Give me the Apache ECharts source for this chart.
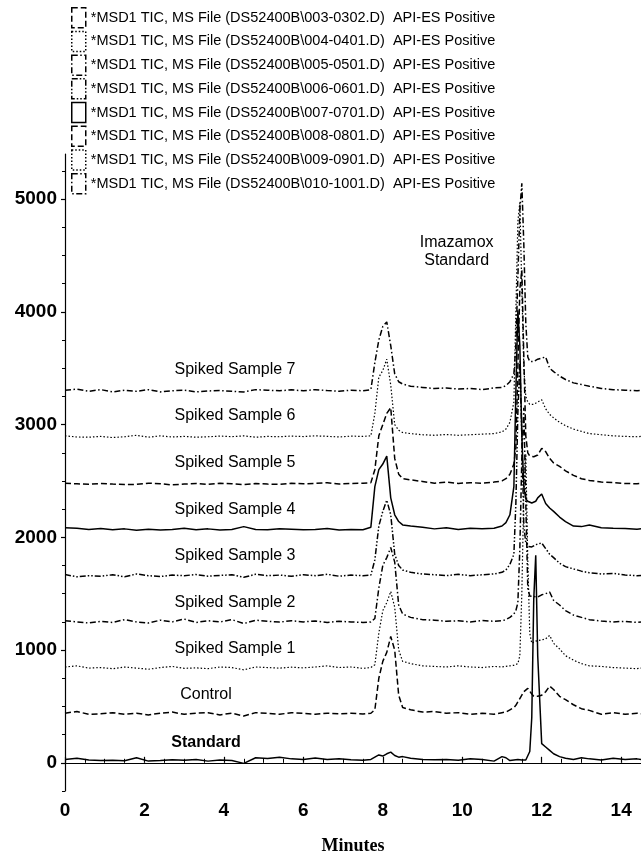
<!DOCTYPE html>
<html>
<head>
<meta charset="utf-8">
<script src="https://cdn.jsdelivr.net/npm/echarts@6/dist/echarts.min.js"></script>
<style>
  html, body { margin: 0; padding: 0; background: #fff; }
  #chart { width: 641px; height: 865px; }
</style>
</head>
<body>
<div id="chart"></div>
<script>
// retention time grid (minutes), denser around the two peak regions
const minutes = [
  0, 0.3, 0.6, 0.9, 1.2, 1.5, 1.8, 2.1, 2.4, 2.7, 3.0, 3.3, 3.6, 3.9, 4.2, 4.5, 4.8, 5.1, 5.4, 5.7, 6.0, 6.3, 6.6, 6.9, 7.2, 7.5,
  7.7, 7.8, 7.9, 8.0, 8.1, 8.2, 8.3, 8.4, 8.5,
  8.7, 9.0, 9.3, 9.6, 9.9, 10.2, 10.5, 10.8,
  11.0, 11.1, 11.2, 11.3,
  11.35, 11.4, 11.45, 11.5, 11.55, 11.6, 11.65, 11.7, 11.75, 11.8, 11.85, 11.9,
  12.0, 12.1, 12.2, 12.3, 12.45, 12.6, 12.8, 13.0, 13.2, 13.5, 13.8, 14.1, 14.4, 14.5
];

const standard = [
  30, 40, 25, 20, 22, 18, 45, 15, 20, 28, 22, 30, 15, 25, 20, -5, 45, 38, 50, 35, 30, 42, 30, 35, 28, 22,
  30, 50, 70, 60, 80, 95, 65, 50, 55,
  40, 30, 28, 30, 22, 35, 30, 15,
  55, 45, 20, 25,
  15, 30, 20, 25, 20, 25, 40, 100, 400, 1450, 1840, 950,
  170, 140, 110, 80, 55, 40, 30, 45, 35, 25, 40, 30, 35, 30
];
const control = [
  440, 455, 430, 435, 445, 430, 440, 425, 440, 450, 430, 440, 445, 425, 440, 415, 445, 440, 430, 445, 438, 430, 440, 435, 440, 432,
  440, 470, 750, 900, 980, 1120, 1000, 600, 490,
  470, 450, 455, 440, 445, 430, 440, 430,
  445, 450, 470, 490,
  510, 540, 570, 600, 630, 645, 660, 665, 610, 590, 585, 590,
  600, 630, 680, 650, 590, 560, 515, 480, 465, 430, 445, 430, 440, 435
];
const spiked1 = [
  850, 860, 840, 845, 835, 850, 840, 830, 845, 855, 838, 842, 835, 850, 845, 825, 850, 845, 840, 848, 842, 850, 860, 845, 850, 838,
  845, 870, 1150, 1350, 1420, 1520, 1380, 1000, 900,
  880, 860, 855, 850, 860, 850, 845, 855,
  850, 855, 860, 865,
  870, 880, 950, 1500, 2400, 2740, 1800, 1150, 1060, 1070, 1080, 1090,
  1090, 1100, 1130, 1060, 1010, 950, 910, 880, 860, 855, 845, 840, 835, 840
];
const spiked2 = [
  1260, 1250, 1240, 1255, 1245, 1270, 1250, 1240, 1265, 1250, 1275, 1245, 1260, 1250, 1270, 1235, 1265, 1255, 1248, 1260, 1250, 1258, 1245, 1255, 1250, 1245,
  1250, 1280, 1550, 1750, 1820, 1910, 1780, 1400, 1320,
  1290, 1270, 1265, 1255, 1260, 1250, 1262, 1255,
  1260, 1270, 1290, 1320,
  1350, 1420, 1900, 2700, 3150, 2300, 1550, 1480, 1470, 1475, 1480, 1470,
  1490, 1500, 1515, 1440, 1400, 1350, 1310, 1290, 1270, 1258, 1250, 1255, 1245, 1250
];
const spiked3 = [
  1670, 1650, 1660, 1655, 1668, 1650, 1675, 1660, 1652, 1665, 1660, 1670, 1655, 1662, 1668, 1645, 1672, 1660, 1665, 1655, 1668, 1660, 1672, 1655, 1665, 1660,
  1665, 1800, 2100, 2230, 2330, 2200, 1850, 1750, 1710,
  1690, 1675, 1668, 1660, 1672, 1660, 1668, 1675,
  1690, 1710, 1760, 1850,
  2300, 3100, 3560, 2900, 2100, 1950, 1920, 1910, 1915, 1925, 1935, 1930,
  1950, 1900, 1850, 1820, 1770, 1740, 1720, 1700, 1685, 1675, 1680, 1665, 1660, 1662
];
const spiked4 = [
  2085, 2080, 2070, 2078, 2068, 2075, 2062, 2072, 2065, 2070, 2080, 2068, 2075, 2065, 2070, 2095, 2070, 2068, 2075, 2072, 2068, 2070, 2078, 2065, 2070, 2068,
  2090, 2450, 2600, 2650, 2720, 2350, 2200, 2140, 2110,
  2100, 2090, 2075, 2085, 2070, 2080, 2075, 2080,
  2100, 2130, 2200, 2450,
  3300, 4014, 3700, 2900, 2450, 2340, 2320, 2310, 2305, 2300, 2320, 2350,
  2385, 2300, 2260, 2230, 2180, 2140, 2100, 2095, 2110, 2085, 2080, 2078, 2072, 2075
];
const spiked5 = [
  2480, 2475, 2470, 2478, 2472, 2468, 2470, 2480, 2476, 2465, 2472, 2478, 2470, 2480, 2475, 2468, 2478, 2472, 2470, 2480, 2475, 2478, 2485, 2472, 2478, 2480,
  2485, 2600, 2900, 3000, 3100, 3150, 2700, 2560, 2520,
  2510, 2495, 2480, 2490, 2478, 2485, 2480, 2490,
  2500, 2520, 2560, 2650,
  2800, 3500, 4200, 4370, 3600, 2900, 2750, 2720, 2710, 2715, 2720, 2730,
  2790, 2760, 2700, 2660, 2630, 2590, 2550, 2520, 2505, 2490, 2485, 2478, 2475, 2478
];
const spiked6 = [
  2900, 2890, 2888, 2895, 2885, 2892, 2905, 2888, 2900, 2890, 2895, 2888, 2892, 2898, 2893, 2900, 2888, 2895, 2892, 2898, 2894, 2900, 2896, 2890, 2898, 2895,
  2900, 3100, 3420, 3480, 3580, 3350, 3000, 2950, 2930,
  2920, 2910, 2905, 2912, 2905, 2910, 2915, 2920,
  2935, 2960, 3020, 3200,
  4000, 4800, 4970, 4200, 3500, 3250, 3200, 3180, 3170, 3180, 3190, 3200,
  3220, 3140, 3090, 3060, 3020, 2990, 2960, 2940, 2920, 2910, 2900, 2895, 2892, 2895
];
const spiked7 = [
  3305, 3315, 3295, 3310, 3290, 3305, 3295, 3310, 3290, 3300, 3305, 3290, 3298, 3302, 3295, 3290, 3310, 3305, 3300, 3308, 3300, 3310, 3302, 3295, 3305, 3300,
  3310, 3550, 3750, 3870, 3910, 3700, 3450, 3380, 3360,
  3340, 3330, 3320, 3325, 3315, 3320, 3310, 3325,
  3330, 3345, 3380, 3450,
  3700, 4300, 4900, 5140, 4600, 3900, 3600, 3560, 3550, 3560, 3575, 3580,
  3590, 3600, 3500, 3470, 3430, 3400, 3370, 3355, 3340, 3320, 3310, 3305, 3300, 3302
];

const traceNames = ["Standard", "Control", "Spiked Sample 1", "Spiked Sample 2", "Spiked Sample 3",
  "Spiked Sample 4", "Spiked Sample 5", "Spiked Sample 6", "Spiked Sample 7"];
const fileIds = ["003-0302", "004-0401", "005-0501", "006-0601", "007-0701", "008-0801", "009-0901", "010-1001"];
const xTickLabels = [0, 2, 4, 6, 8, 10, 12, 14];
const yTickLabels = [0, 1000, 2000, 3000, 4000, 5000];

const traces = [standard, control, spiked1, spiked2, spiked3, spiked4, spiked5, spiked6, spiked7];
const fileNames = fileIds.map(f => `*MSD1 TIC, MS File (DS52400B\\${f}.D)  API-ES Positive`);

// line patterns cycle like the original plot: solid, dash, dot, dash-dot, dash-dot-dot
const patterns = ["solid", [6, 3], [1.5, 2], [6, 2.5, 1.5, 2.5], [6, 2, 1.5, 2, 1.5, 2]];
const styleOf = i => patterns[i % 5];

// where each trace caption sits, in data coordinates
const captionAt = [[3.55, 177], [3.55, 603], [4.28, 1012], [4.28, 1420], [4.28, 1837],
  [4.28, 2245], [4.28, 2662], [4.28, 3079], [4.28, 3487]];

const font = "'Liberation Sans', Arial, sans-serif";

const lineSeries = traces.map((vals, i) => ({
  type: "line",
  name: i === 0 ? "Standard trace" : fileNames[i - 1],
  data: minutes.map((t, k) => [t, vals[k]]),
  showSymbol: false,
  symbol: "none",
  silent: true,
  lineStyle: { color: "#000", width: styleOf(i) === patterns[2] ? 1.2 : 1.5, type: styleOf(i) },
  z: 3
}));

const captions = {
  type: "scatter",
  name: "captions",
  symbolSize: 0,
  silent: true,
  z: 5,
  itemStyle: { opacity: 1 },
  label: {
    show: true, position: "inside", formatter: p => p.name,
    color: "#000", opacity: 1, fontSize: 16, fontFamily: font, lineHeight: 18
  },
  data: traceNames.map((n, i) => ({
    name: n, value: captionAt[i],
    label: i === 0 ? { fontWeight: "bold" } : {}
  })).concat([{ name: "Imazamox\nStandard", value: [9.86, 4534] }])
};

const axisText = { color: "#000", fontSize: 19, fontWeight: "bold", fontFamily: font, formatter: v => String(v) };
const minorX = [];
for (let v = 0.5; v <= 14.5; v += 1) minorX.push(v);
for (let v = 1; v <= 13; v += 2) minorX.push(v);
const minorY = [];
for (let v = -250; v <= 5250; v += 250) if (v % 1000 !== 0) minorY.push(v);

const option = {
  animation: false,
  backgroundColor: "#fff",
  grid: { left: 65, right: 0, top: 154, bottom: 74 },
  legend: {
    orient: "vertical",
    left: 66, top: 2, padding: 5,
    itemWidth: 14, itemHeight: 20, itemGap: 2.2,
    selectedMode: false,
    textStyle: { color: "#000", fontSize: 14.5, fontFamily: font },
    data: fileNames.map((n, i) => ({
      name: n,
      icon: "path://M0,0H14V20H0Z",
      itemStyle: {
        color: "transparent", borderColor: "#000", borderWidth: 1.5,
        borderType: styleOf(i + 1)
      }
    }))
  },
  xAxis: [{
    type: "value", min: 0, max: 14.5,
    name: "Minutes", nameLocation: "middle", nameGap: 46,
    nameTextStyle: { color: "#000", fontSize: 18, fontWeight: "bold", fontFamily: "'Liberation Serif', 'Times New Roman', serif" },
    axisLine: { show: true, lineStyle: { color: "#000", width: 1.2 } },
    axisTick: { show: true, inside: true, length: 6, customValues: xTickLabels, lineStyle: { color: "#000", width: 1.2 } },
    axisLabel: { ...axisText, margin: 10, customValues: xTickLabels },
    splitLine: { show: false }
  }, {
    type: "value", min: 0, max: 14.5, position: "bottom",
    axisLine: { show: false },
    axisTick: { show: true, inside: true, length: 4, customValues: minorX, lineStyle: { color: "#000", width: 1 } },
    axisLabel: { show: false },
    splitLine: { show: false }
  }],
  yAxis: [{
    type: "value", min: -250, max: 5400,
    axisLine: { show: true, lineStyle: { color: "#000", width: 1.2 } },
    axisTick: { show: true, length: 4, customValues: yTickLabels, lineStyle: { color: "#000", width: 1.2 } },
    axisLabel: { ...axisText, margin: 8, customValues: yTickLabels },
    splitLine: { show: false }
  }, {
    type: "value", min: -250, max: 5400, position: "left",
    axisLine: { show: false },
    axisTick: { show: true, length: 3, customValues: minorY, lineStyle: { color: "#000", width: 1 } },
    axisLabel: { show: false },
    splitLine: { show: false }
  }],
  series: lineSeries.concat([captions])
};

const chart = echarts.init(document.getElementById("chart"), null, { renderer: "canvas" });
chart.setOption(option);
</script>
</body>
</html>
